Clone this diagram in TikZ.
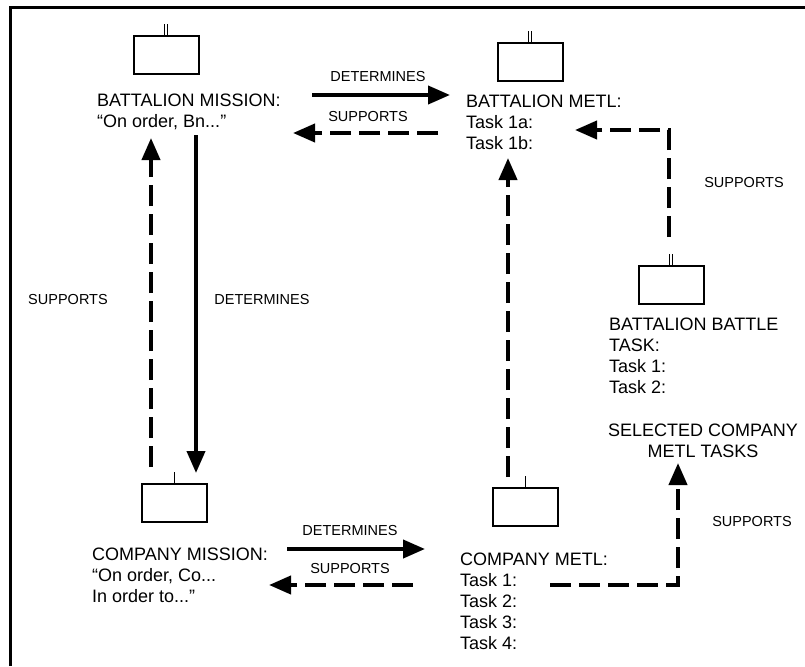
\documentclass[tikz,border=0pt]{standalone}
\usepackage{fontspec}
\setmainfont{Liberation Sans}
\usetikzlibrary{arrows.meta}

\begin{document}
\begin{tikzpicture}[x=1pt,y=-1pt,
    unitbox/.style={draw, line width=2pt, minimum width=65pt, minimum height=38pt, inner sep=0pt},
    txt/.style={font=\fontsize{18}{21}\selectfont, align=left, inner sep=0pt, anchor=north west},
    lbl/.style={font=\fontsize{14.5}{16}\selectfont, inner sep=0pt},
    fwd/.style={line width=4pt, -{Triangle[length=22pt,width=18pt]}},
    back/.style={fwd, dash pattern=on 21pt off 8pt}]
    \useasboundingbox (0,0) rectangle (805,666);
    \draw[line width=2.7pt] (10.3,666) -- (10.3,7.3) -- (805,7.3);

    % unit symbols
    \node[unitbox] (bnmbox) at (166,55) {};
    \node[unitbox] (bnmetlbox) at (530,62) {};
    \node[unitbox] (btlbox) at (671,285) {};
    \node[unitbox] (cobox) at (174,503) {};
    \node[unitbox] (cometlbox) at (525,507) {};
    \foreach \u in {bnmbox,bnmetlbox,btlbox}
        \foreach \s in {-1.6,1.6}
            \draw[line width=1pt] ([xshift=\s pt]\u.north) -- ++(0,-11);
    \foreach \u in {cobox,cometlbox}
        \draw[line width=1pt] (\u.north) -- ++(0,-11);

    % texts
    \node[txt] (bnmtxt) at (97,94) {BATTALION MISSION:\\“On order, Bn...”};
    \node[txt] (bnmetltxt) at (466,95) {BATTALION METL:\\Task 1a:\\Task 1b:};
    \node[txt] (btltxt) at (609,318) {BATTALION BATTLE\\TASK:\\Task 1:\\Task 2:};
    \node[txt, align=center, anchor=north] (seltxt) at (703,424) {SELECTED COMPANY\\METL TASKS};
    \node[txt] (cotxt) at (92,548) {COMPANY MISSION:\\“On order, Co...\\In order to...”};
    \node[txt] (cometltxt) at (460,553) {COMPANY METL:\\Task 1:\\Task 2:\\Task 3:\\Task 4:};

    % arrow ends
    \coordinate (detTopA) at (312,95);   \coordinate (detTopB) at (450,95);
    \coordinate (supTopA) at (438,133);  \coordinate (supTopB) at (293,133);
    \coordinate (supLeftA) at (151,467); \coordinate (supLeftB) at (151,138);
    \coordinate (detLeftA) at (196,135); \coordinate (detLeftB) at (196,473);
    \coordinate (metlUpA) at (508,477);  \coordinate (metlUpB) at (508,158);
    \coordinate (btlSupA) at (669,237);  \coordinate (btlSupB) at (575,130);
    \coordinate (selSupA) at (550,585);  \coordinate (selSupB) at (678,463);
    \coordinate (detBotA) at (287,549);  \coordinate (detBotB) at (425,549);
    \coordinate (supBotA) at (413,585);  \coordinate (supBotB) at (269,585);

    \draw[fwd] (detTopA) -- (detTopB);
    \draw[back] (supTopA) -- (supTopB);
    \draw[back] (supLeftA) -- (supLeftB);
    \draw[fwd] (detLeftA) -- (detLeftB);
    \draw[back] (metlUpA) -- (metlUpB);
    \draw[back] (btlSupA) |- (btlSupB);
    \draw[back] (selSupA) -| (selSupB);
    \draw[fwd] (detBotA) -- (detBotB);
    \draw[back] (supBotA) -- (supBotB);

    % labels
    \node[lbl] (detTopLbl) at (378,77) {DETERMINES};
    \node[lbl] (supTopLbl) at (368,117) {SUPPORTS};
    \node[lbl] (supLeftLbl) at (68,300) {SUPPORTS};
    \node[lbl] (detLeftLbl) at (262,300) {DETERMINES};
    \node[lbl] (btlSupLbl) at (744,183) {SUPPORTS};
    \node[lbl] (selSupLbl) at (752,522) {SUPPORTS};
    \node[lbl] (detBotLbl) at (350,531) {DETERMINES};
    \node[lbl] (supBotLbl) at (350,569) {SUPPORTS};
\end{tikzpicture}
\end{document}
